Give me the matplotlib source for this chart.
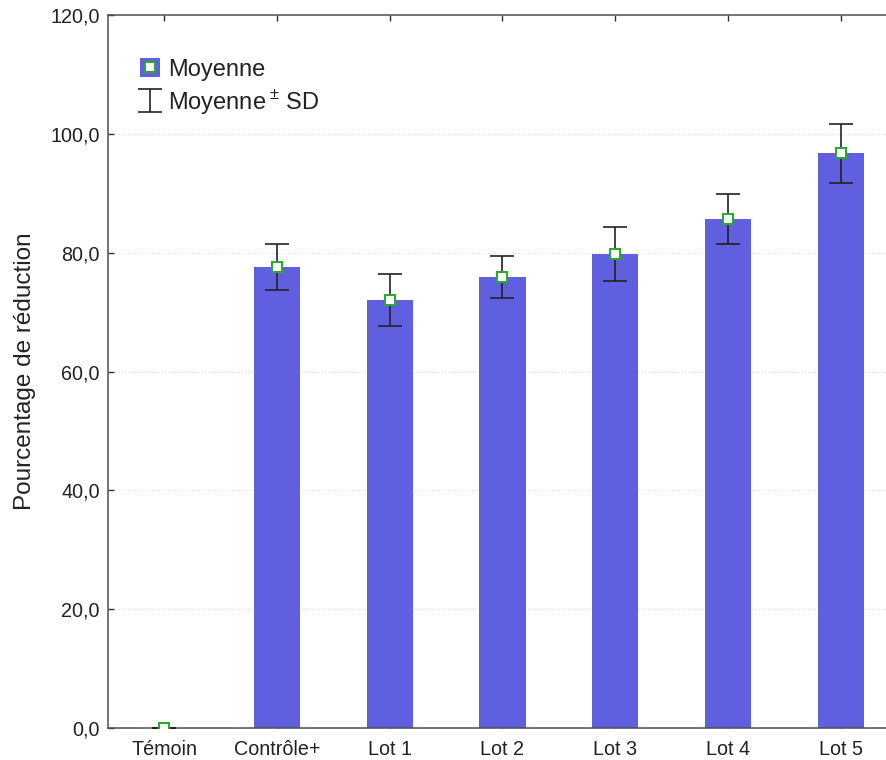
import matplotlib
matplotlib.use("Agg")
import matplotlib.pyplot as plt
from matplotlib.ticker import FuncFormatter
from matplotlib.legend_handler import HandlerTuple
import numpy as np

plt.rcParams['font.family'] = ['Liberation Sans', 'DejaVu Sans']
plt.rcParams['mathtext.fontset'] = 'custom'
plt.rcParams['mathtext.rm'] = 'Liberation Sans'

categories = ["Témoin", "Contrôle+", "Lot 1", "Lot 2", "Lot 3", "Lot 4", "Lot 5"]
means = [0.0, 77.6, 72.0, 75.9, 79.8, 85.6, 96.7]
sd = [0.0, 3.9, 4.4, 3.6, 4.5, 4.2, 5.0]
yticks = [0, 20, 40, 60, 80, 100, 120]

bar_color = "#5F5FE0"
green = "#2EA82E"

fig = plt.figure(figsize=(8.86, 7.6), dpi=100)
ax = fig.add_axes([108/886, 32/760, (897-108)/886, 713/760])

x = np.arange(len(categories))
bars = ax.bar(x, means, width=0.41, color=bar_color, zorder=2)
eb = ax.errorbar(x, means, yerr=sd, fmt='none', ecolor='#222222', elinewidth=1.2,
                 capsize=8.3, capthick=1.2, zorder=3)
mk, = ax.plot(x, means, 's', ms=7, mfc='white', mec=green, mew=1.5, ls='none', zorder=4)

ax.set_xlim(-0.5, len(categories) - 0.5)
ax.set_ylim(0, 120)
ax.set_yticks(yticks)
ax.yaxis.set_major_formatter(FuncFormatter(lambda v, p: f"{v:.1f}".replace('.', ',')))
ax.set_xticks(x)
ax.set_xticklabels(categories)

ax.yaxis.grid(True, linestyle=(0, (1, 2)), color='#D8D8D8', linewidth=0.8, zorder=0)
ax.set_axisbelow(True)

for s in ['left', 'bottom', 'top']:
    ax.spines[s].set_color('#505050')
    ax.spines[s].set_linewidth(1.1)
ax.spines['right'].set_visible(False)

ax.tick_params(axis='both', direction='in', length=4, width=1, colors='#303030',
               labelsize=14.2, labelcolor='#222222')
ax.tick_params(axis='x', top=True, pad=8.5)
ax.tick_params(axis='y', pad=6)

ax.set_ylabel("Pourcentage de réduction", fontsize=17.5, color='#222222', labelpad=10)

leg = ax.legend([(bars[1], mk), eb], ["Moyenne", "Moyenne$\\,^{\\pm}$ SD"],
                handler_map={tuple: HandlerTuple(ndivide=1)},
                loc='upper left', bbox_to_anchor=(0.013, 0.969), frameon=False,
                fontsize=17, handlelength=0.85, handleheight=0.85,
                handletextpad=0.35, labelspacing=0.28)
for t in leg.get_texts():
    t.set_color('#222222')

fig.savefig("out.png", dpi=100)
